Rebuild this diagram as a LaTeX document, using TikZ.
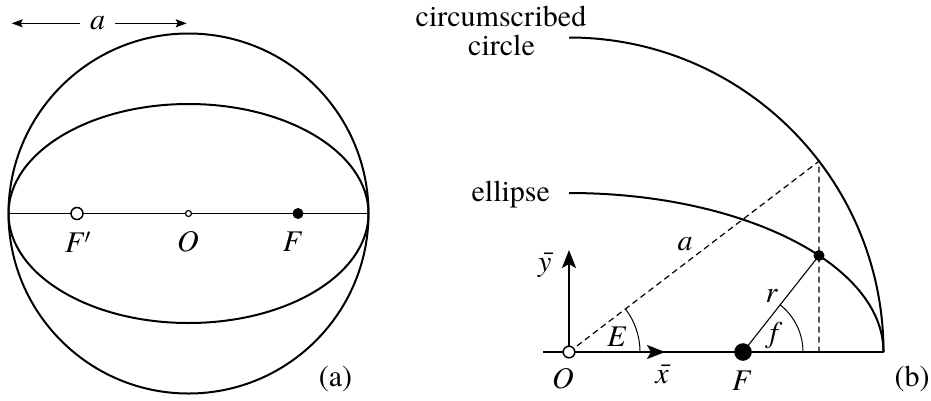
\documentclass[tikz,border=0pt]{standalone}
\usepackage{fontspec}
\IfFontExistsTF{texgyretermes-regular.otf}{%
  \setmainfont{texgyretermes}[Extension=.otf,UprightFont=*-regular,ItalicFont=*-italic,BoldFont=*-bold,BoldItalicFont=*-bolditalic]}{}
\usetikzlibrary{arrows.meta,calc}
\begin{document}
\begin{tikzpicture}[x=1pt,y=-1pt,
  font=\fontsize{30}{36}\selectfont,
  curve/.style={line width=2pt},
  axisline/.style={line width=1.8pt},
  thinline/.style={line width=1.1pt},
  dashline/.style={line width=1.2pt,dash pattern=on 6pt off 4pt},
  axisarrow/.style={line width=2.2pt,-{Stealth[length=18pt,width=14pt,inset=4pt]}},
  smallarrow/.style={line width=1.3pt,-{Stealth[length=11pt,width=8pt,inset=2pt]}},
  opendot/.style={circle,draw,fill=white,line width=1.5pt,inner sep=0pt},
  filldot/.style={circle,fill=black,inner sep=0pt},
  lbl/.style={inner sep=0pt}]
\useasboundingbox (0,0) rectangle (931,400);
% ---------- (a) ----------
\coordinate (C) at (188.5,213.5);
\coordinate (AL) at (8.5,213.5);
\coordinate (AR) at (368.5,213.5);
\draw[curve] (C) circle[radius=180pt];
\draw[curve] (C) ellipse[x radius=180pt,y radius=109.5pt];
\draw[axisline] (AL) -- (AR);
\node[opendot,minimum size=12pt] (Fpd) at (77,213.5) {};
\node[opendot,minimum size=6pt,line width=1.2pt] (Oad) at (C) {};
\node[filldot,minimum size=11pt] (Fad) at (298,213.5) {};
\node[lbl] (Fpl) at (78,242) {\textit{F}$'$};
\node[lbl] (Oal) at (188,242) {\textit{O}};
\node[lbl] (Fal) at (292.5,242) {\textit{F}};
\node[lbl,inner xsep=10pt] (al) at (97.5,22.7) {\textit{a}};
\coordinate (ArL) at (11.7,23.3);
\coordinate (ArR) at (186.7,23.3);
\draw[smallarrow] (al.west |- ArL) -- (ArL);
\draw[smallarrow] (al.east |- ArR) -- (ArR);
\node[lbl] (pa) at (335.5,379) {(a)};
% ---------- (b) ----------
\coordinate (O) at (569,352);
\coordinate (X0) at (543,352);
\coordinate (XE) at (883.5,352);
\coordinate (Ctop) at (569,37.5);
\coordinate (Etop) at (569,193);
\coordinate (F) at (743,352);
\coordinate (P) at ($(O)+(37.35:314.5pt and 159pt)$);
\coordinate (Q) at ($(O)+(37.35:314.5pt)$);
\coordinate (Qf) at (Q |- O);
\coordinate (Xtip) at (665,352);
\coordinate (Ytip) at (569,250);
\draw[curve] (Ctop) arc[start angle=90,end angle=0,radius=314.5pt];
\draw[curve] (Etop) arc[start angle=90,end angle=0,x radius=314.5pt,y radius=159pt];
\draw[axisline] (X0) -- (XE);
\draw[dashline] (O) -- (Q) -- (Qf);
\draw[thinline] (F) -- (P);
\draw[line width=1pt] ($(O)+(71pt,0)$) arc[start angle=0,end angle=37.35,radius=71pt];
\draw[line width=1pt] ($(F)+(60pt,0)$) arc[start angle=0,end angle=51.8,radius=60pt];
\draw[axisarrow] (O) -- (Xtip);
\draw[axisarrow] (O) -- (Ytip);
\node[opendot,minimum size=11.6pt] (Od) at (O) {};
\node[filldot,minimum size=17.6pt] (Fd) at (F) {};
\node[filldot,minimum size=11pt] (Pd) at (P) {};
\node[lbl,anchor=base] (cc1) at (501,26) {circumscribed};
\node[lbl,anchor=base] (cc2) at (501.5,55) {circle};
\node[lbl,anchor=base] (el) at (510.8,201.7) {ellipse};
\node[lbl] (ar) at (685,244.5) {\textit{a}};
\node[lbl] (El) at (617,337) {\textit{E}};
\node[lbl] (xl) at (663,374) {\textit{\=x}};
\node[lbl] (yl) at (545.7,265.5) {\textit{\=y}};
\node[lbl] (Ol) at (563,379) {\textit{O}};
\node[lbl] (Fl) at (741.7,381) {\textit{F}};
\node[lbl] (rl) at (771.7,296) {\textit{r}};
\node[lbl] (fl) at (776,335) {\textit{f}};
\node[lbl] (pb) at (912,379) {(b)};
\end{tikzpicture}
\end{document}
